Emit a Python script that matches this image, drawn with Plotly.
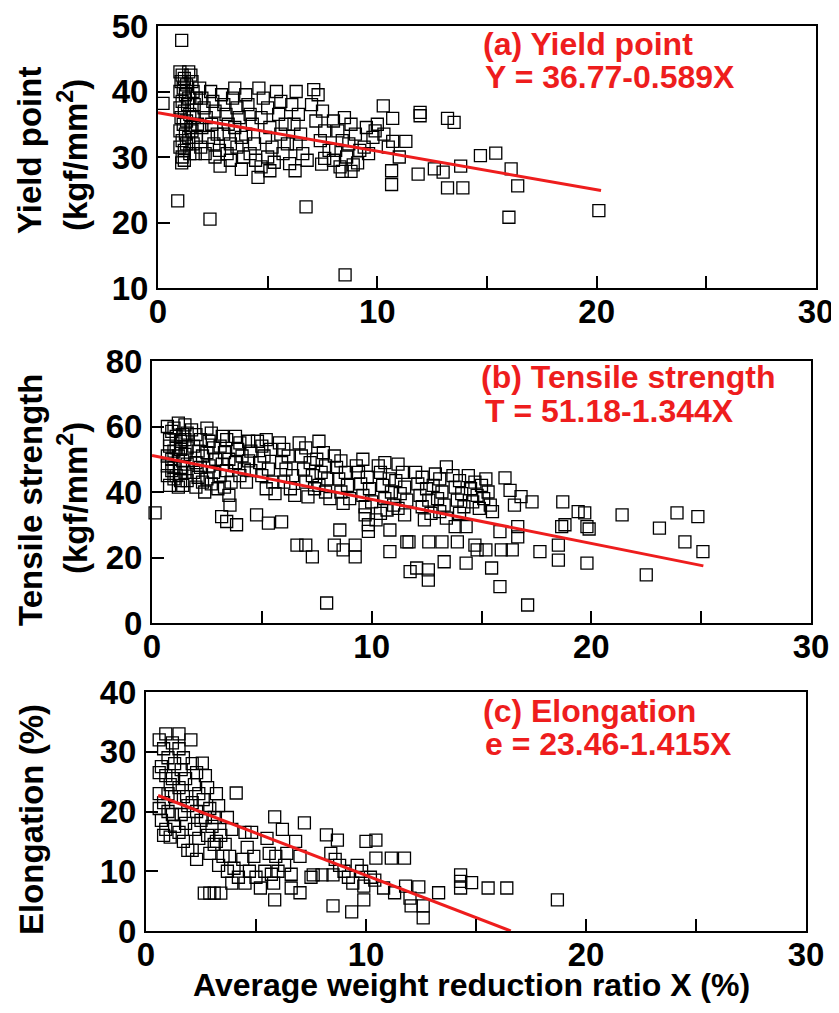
import plotly.graph_objects as go

# ---------------- data ----------------
# (a) Yield point
ya_x = [1.0,1.1,1.2,1.05,1.3,1.15,1.0,1.25,1.4,1.1,1.35,1.0,1.2,1.45,1.05,1.3,1.15,1.5,1.0,1.25,1.4,1.1,1.3,1.0,1.2,1.45,1.1,1.55,1.6,1.65,1.6,1.55,1.6,1.7,1.5,1.4,1.75,1.8,1.75,1.2,
        1.9,2.0,2.1,2.2,2.0,2.3,1.95,2.15,2.4,2.5,2.6,2.45,2.7,2.55,2.8,2.9,3.0,3.1,3.2,3.0,3.3,3.15,3.5,3.4,3.6,3.7,3.5,3.8,3.6,3.9,4.0,4.1,4.2,4.3,4.0,4.4,4.2,4.45,3.3,2.6,
        4.6,4.8,5.0,4.7,5.1,4.9,5.2,5.0,5.4,5.6,5.5,5.8,5.6,5.9,5.7,6.0,6.3,6.1,6.4,6.2,6.5,6.3,6.6,6.8,5.3,4.7,
        7.1,7.3,7.0,7.5,7.2,7.6,7.4,7.8,7.6,8.0,8.2,8.4,8.1,8.6,8.0,8.5,8.8,9.0,8.7,9.2,9.5,9.8,9.4,9.6,8.9,8.3,9.9,10.3,10.5,
        1.08,0.23,1.08,0.9,2.37,2.83,3.8,4.56,5.1,6.25,6.75,8.53,7.46,8.4,8.8,9.1,10.65,10.65,10.27,10.0,10.7,11.95,11.95,13.2,13.5,11.3,10.7,11.0,11.86,12.6,13.0,13.2,13.9,13.8,14.7,15.4,16.1,16.4,16.0,20.1]
ya_y = [43,42.5,42,41.5,41,40.5,40,39.5,39,38.5,38,37.5,37,36.5,36,35.5,35,34.5,34,33.5,33,32.5,32,31.5,31,30.5,30,41.5,40,38,36,34,32,30.5,42.5,43,39,35,33,29.5,
        40.5,39,37.5,36,34.5,33,31.5,30.5,40,38.5,37,35,33.5,32,31,39.5,38,36.5,35,33.5,32,30.5,40.5,39,37.5,36,34.5,33,31.5,30,39.5,38,36.5,35,33.5,32,30.5,29.5,29.5,30,
        40.5,39,37.5,36,34.5,33,31.5,30,40,38.5,36.5,35,33.5,32,30.5,29,40,38,36.5,35,33.5,32,30.5,29.5,29.2,28.5,
        40.3,39.5,38,37,35.5,34,32.5,31,29.8,35.5,34,32.5,31,30,29.5,36,35,33.5,32,31,34.5,33,31.5,30.5,28.8,28.5,34,33.5,31.5,
        47.8,38.2,29.1,23.3,20.5,28.6,28.1,26.9,27.9,27.9,22.4,12.0,28.9,27.8,27.8,29.1,25.8,27.9,37.8,35.0,35.9,36.3,36.8,35.9,35.3,32.4,32.4,30.0,27.4,28.2,27.7,25.3,25.3,28.6,30.2,30.6,28.2,25.6,20.8,21.8]

# (b) Tensile strength
ts_x = [0.7,0.9,1.1,1.3,0.8,1.0,1.2,1.4,0.7,0.9,1.1,1.3,0.8,1.5,1.6,1.5,1.6,1.5,1.6,1.5,1.6,1.0,1.2,0.8,1.1,0.9,1.3,1.0,1.4,0.7,1.2,1.4,1.3,0.7,1.0,
        1.8,2.0,2.2,1.9,2.1,2.3,2.0,2.2,1.9,2.1,2.3,2.0,2.5,2.7,2.6,2.8,2.5,2.9,2.6,2.8,2.5,2.7,3.0,3.2,3.4,3.1,3.3,3.5,3.2,3.4,3.1,3.6,3.3,3.8,4.0,3.9,4.1,3.8,4.2,4.0,4.3,4.4,4.5,4.4,4.5,2.4,3.5,
        4.8,5.0,5.2,5.4,5.1,4.9,5.3,5.0,5.5,5.2,5.6,5.8,6.0,6.2,5.9,6.1,6.4,6.0,6.3,6.5,6.7,7.0,6.8,7.2,6.9,7.3,7.0,7.4,7.1,7.6,7.8,7.5,7.9,7.7,8.0,7.6,7.9,8.1,
        8.3,8.6,8.4,8.8,8.5,8.9,8.6,9.0,8.7,9.3,9.6,9.4,9.8,9.5,9.9,9.6,10.0,9.7,10.3,10.6,10.4,10.8,10.5,10.9,10.6,11.0,10.7,11.2,11.4,11.1,11.5,11.3,11.6,11.2,11.5,9.7,10.2,10.4,
        12.0,12.3,12.1,12.5,12.2,12.6,12.3,12.7,12.4,12.9,13.1,12.8,13.2,13.0,13.3,13.1,13.4,13.4,13.7,14.0,13.8,14.1,13.9,14.2,14.0,14.4,14.7,14.5,14.8,14.6,14.9,15.2,15.0,15.3,15.1,15.4,15.5,16.07,16.3,16.8,17.3,16.5,
        0.14,3.55,3.17,3.4,3.85,4.76,5.3,5.9,6.6,7.0,7.3,7.95,8.3,8.7,9.25,9.25,8.55,9.85,9.85,10.83,10.83,11.6,11.75,18.7,19.4,19.7,21.4,23.1,23.9,24.85,24.26,25.08,22.5,18.65,18.8,19.8,19.9,18.5,18.5,17.66,19.8,17.1,15.84,15.46,15.9,16.4,15.84,16.65,16.65,12.05,12.58,12.58,13.3,14.3,14.8,14.7,13.9,13.2,12.6,11.7,13.8,14.3,15.2]
ts_y = [60,58.5,57,55.5,54,52.5,51,49.5,48,46.5,45,43.5,42,60.5,58,56,53.5,51.5,48.5,46,43.5,59.5,61,56,53.5,50,47.5,44,42,45,41.5,57.5,53,51,47.5,
        59,57.5,56,54,52.5,51,49,47.5,46,44.5,43,41.5,59.5,58,55.5,53.5,52,50,48,46,44,42.5,41,57,56,54,52,50,48.5,46.5,45,43,41.5,57,55,53,51,49,47,45,43,55.5,52.5,49.5,46.5,40,39,
        55.5,54,56,53,51,49,47,45,43,41,39.5,55,53,51,49,47,45,43,41,39,55,53.5,51,49,47,45,43,41,38.5,55.5,52,50,48,46,44,42,40,38,
        51,49.5,47.5,46,44,42,40,38,36.5,48,50,46,44.5,42.5,41,39,37,35.5,48,49,46,44,42,40,38,36,34.5,48.5,46,43.5,41.5,39.5,37.5,35,33,33,31.5,33.5,
        46,44.5,42.5,41,39,37.5,35.5,33.5,31.5,45.5,44,42,40,38,36,34,32,47.7,45,43.5,41.5,39.5,37.5,35.5,33.5,45,43,41,39,37,35,44,42,40,38,36,34,44.3,40.5,38.6,37,36,
        33.6,36,32.5,31,30,33,30.5,30.9,23.8,23.8,20.2,6.1,23.8,22.3,23.8,20.2,28.4,30,28,28.4,21.8,24.8,15.7,37,34,33.6,33,29,33.6,32.5,24.8,21.8,14.7,29.4,30,29.4,28.7,23.8,19.2,21.8,18.3,5.5,11.1,16.8,22.3,22.3,27.9,29.4,26.3,16.8,16.2,13.1,18.7,18.3,22.3,23.8,24.8,24.8,24.8,24.8,29.4,29.4,22.3]

# (c) Elongation
el_x = [0.6,0.8,1.0,0.7,0.9,1.1,0.6,0.8,1.0,0.7,0.9,1.1,1.2,1.3,1.2,1.3,1.2,1.3,0.6,0.9,1.5,0.6,1.0,0.8,
        1.5,1.7,1.6,1.8,1.5,1.7,1.9,1.6,1.8,1.5,1.7,1.9,2.04,2.1,2.3,2.2,2.4,2.1,2.3,2.5,2.2,2.4,2.1,2.3,2.56,2.7,2.8,2.6,2.9,2.7,3.0,2.8,3.1,2.9,3.2,3.3,3.1,3.4,3.2,3.5,3.3,
        4.1,3.7,3.9,3.6,3.8,4.0,3.7,4.2,3.9,2.65,3.1,3.4,2.9,4.5,4.8,4.6,4.4,4.9,4.7,5.0,4.5,5.2,5.5,5.85,5.6,5.9,5.4,5.7,6.0,5.8,5.85,6.2,6.4,6.3,6.6,6.6,7.0,6.8,7.2,7.0,7.5,7.6,8.0,8.2,8.5,8.7,8.4,8.8,9.0,8.6,9.2,9.6,9.4,10.0,9.8,9.9,8.5,9.35,9.9,10.2,
        10.45,10.45,11.15,11.75,10.8,11.3,10.4,12.05,12.6,12.6,12.4,13.3,14.3,14.3,14.3,14.8,15.55,16.4,18.7,11.8,12.0]
el_y = [32,30.5,29,27.5,26,24.5,23,21.5,20,18.5,17,15.7,31.5,28,25.5,22.5,19.5,17.5,20.5,33,33,26.5,23,16,
        30.5,29,27,25.5,24,22.5,21,19.5,18,16.5,15,13.5,32,28,26.5,24.5,23,21.5,20,18.5,17,15.5,13.5,12,28.1,26,24,22,20.5,19,17.5,16,14.5,13,23,21,19,16,15,12.5,11,
        23.1,19,17,14.5,12.5,10.5,10,9,8,6.35,6.35,6.35,6.35,16.5,16.5,14,12,12.5,10,9,8,7.2,15.5,19.1,13,12.5,10,9.5,10,8,5.2,17,13,11,9.5,7.2,6.4,15,18.1,12.5,9,9.4,9.4,16.1,9.4,15.2,13,11,10,12,9,11,8,15,10,7.5,4.2,3.2,5.2,9,
        15.2,12.2,12.2,12.2,7.2,6.4,8.5,4.2,4.2,2.2,7.4,6.4,9.4,8.3,7.2,8.1,7.2,7.2,5.2,7.5,5.5]

# regression lines (endpoints of fitted lines)
ya_line_x = [0, 20.2]
ya_line_y = [36.77 - 0.589 * v for v in ya_line_x]
ts_line_x = [0, 25.1]
ts_line_y = [51.18 - 1.344 * v for v in ts_line_x]
el_line_x = [0.55, 23.46 / 1.415]
el_line_y = [23.46 - 1.415 * v for v in el_line_x]

# The page body has an 8 px margin; keep the page inside the window and
# shift reference pixel positions by 8 px.
OFF = 8
W, H = 839 - OFF, 1013 - 2 * OFF
FONT = "Liberation Sans, Arial, sans-serif"
RED = "#ee1d1d"

def fx(px):
    return (px - OFF) / W

def fy(py):
    return 1 - (py - OFF) / H

fig = go.Figure()
panels = [
    (ya_x, ya_y, ya_line_x, ya_line_y, "x", "y"),
    (ts_x, ts_y, ts_line_x, ts_line_y, "x2", "y2"),
    (el_x, el_y, el_line_x, el_line_y, "x3", "y3"),
]
for px, py, lx, ly, xa, ya in panels:
    fig.add_trace(go.Scatter(x=px, y=py, mode="markers", xaxis=xa, yaxis=ya,
                             marker=dict(symbol="square-open", size=12, color="black",
                                         line=dict(width=1.3, color="black")),
                             showlegend=False, cliponaxis=False))
    fig.add_trace(go.Scatter(x=lx, y=ly, mode="lines", xaxis=xa, yaxis=ya,
                             line=dict(color=RED, width=3), showlegend=False))

def xax(dom, anchor):
    return dict(domain=dom, anchor=anchor, range=[0, 30], tickmode="linear",
                tick0=0, dtick=10, ticks="inside", ticklen=12,
                tickwidth=2, tickcolor="black", showline=True, linewidth=2,
                linecolor="black", mirror=True, showgrid=False, zeroline=False,
                automargin=False, ticklabelstandoff=-7, ticklabeloverflow="allow",
                minor=dict(tick0=0, dtick=5, ticks="inside", ticklen=12, tickwidth=2,
                           tickcolor="black", showgrid=False),
                tickfont=dict(family=FONT, size=33, color="black", weight="bold"))

def yax(dom, anchor, rng, dt):
    return dict(domain=dom, anchor=anchor, range=rng, tickmode="linear", tick0=rng[0],
                dtick=dt, ticks="inside", ticklen=12, tickwidth=2, tickcolor="black",
                showline=True, linewidth=2, linecolor="black", mirror=True,
                showgrid=False, zeroline=False, ticklabelstandoff=1, automargin=False,
                ticklabeloverflow="allow",
                tickfont=dict(family=FONT, size=33, color="black", weight="bold"))

fig.update_layout(
    width=W, height=H, margin=dict(l=0, r=0, t=0, b=0),
    paper_bgcolor="white", plot_bgcolor="white",
    xaxis=xax([fx(158), fx(816)], "y"),
    yaxis=yax([fy(288), fy(26)], "x", [10, 50], 10),
    xaxis2=xax([fx(152), fx(811)], "y2"),
    yaxis2=yax([fy(623), fy(361)], "x2", [0, 80], 20),
    xaxis3=xax([fx(146), fx(806)], "y3"),
    yaxis3=yax([fy(931), fy(692)], "x3", [0, 40], 10),
)

def ann(text, x, y, color="black", size=33, angle=0, xanchor="center", yanchor="middle"):
    fig.add_annotation(text=text, x=fx(x), y=fy(y), xref="paper", yref="paper",
                       showarrow=False, textangle=angle, xanchor=xanchor, yanchor=yanchor,
                       font=dict(family=FONT, size=size, color=color, weight="bold"))

# panel labels / equations
ann("(a) Yield point", 481, 44, RED, 32, xanchor="left")
ann("Y = 36.77-0.589X", 483, 77, RED, 32, xanchor="left")
ann("(b) Tensile strength", 479, 377, RED, 32, xanchor="left")
ann("T = 51.18-1.344X", 483, 411, RED, 32, xanchor="left")
ann("(c) Elongation", 481, 711, RED, 32, xanchor="left")
ann("e = 23.46-1.415X", 483, 744, RED, 32, xanchor="left")

# y axis titles
ann("Yield point", 30, 151, angle=-90)
ann("(kgf/mm<sup>2</sup>)", 73, 155, angle=-90)
ann("Tensile strength", 30, 500, angle=-90)
ann("(kgf/mm<sup>2</sup>)", 73, 498, angle=-90)
ann("Elongation (%)", 31, 820, angle=-90)

# x axis title
ann("Average weight reduction ratio X (%)", 471, 985, size=32)

fig.write_html("out.html")
